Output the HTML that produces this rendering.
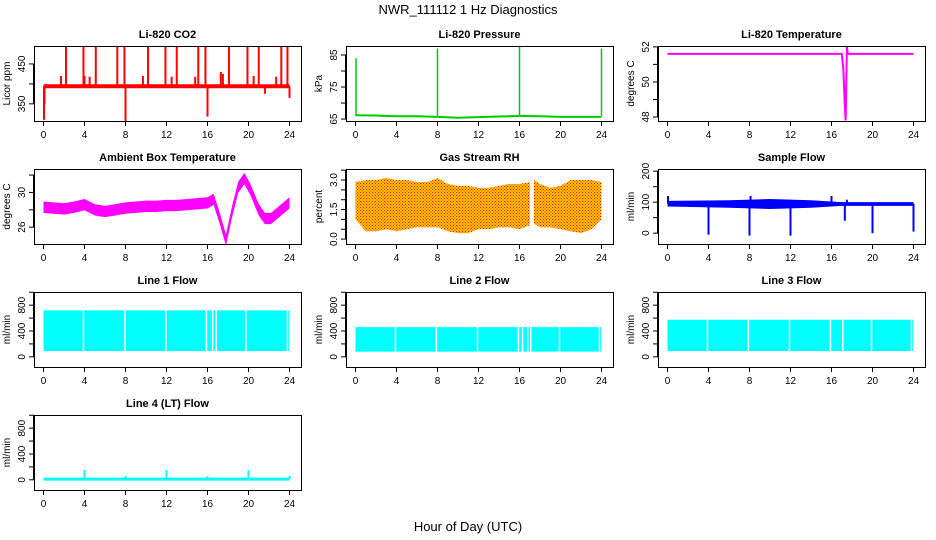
<!DOCTYPE html>
<html><head><meta charset="utf-8"><style>
html,body{margin:0;padding:0;background:#fff;}
svg{display:block;font-family:"Liberation Sans",sans-serif;}
</style></head><body>
<svg id="chart" width="936" height="540" viewBox="0 0 936 540">
<defs>
<pattern id="dots" width="3" height="3" patternUnits="userSpaceOnUse"><rect x="0" y="0" width="1" height="1" fill="#ff0000"/><rect x="1.5" y="1.5" width="1" height="1" fill="#ff0000"/></pattern>
</defs>
<text x="468" y="14" font-size="13" text-anchor="middle">NWR_111112  1 Hz Diagnostics</text>
<text x="468" y="531" font-size="13" text-anchor="middle">Hour of Day (UTC)</text>
</svg>
<script>
// ---- data ----
const xTicks = [0,4,8,12,16,20,24];
const co2BaseT = [0,24];
const co2BaseLo = [389,389];
const co2BaseHi = [399,399];
const co2SpikeT = [0.05,0.1,1.7,2.2,3.9,4.0,4.5,5.1,7.2,7.9,8.0,9.7,10.2,11.9,12.5,13.0,14.8,15.1,15.8,16.0,17.3,17.5,18.1,19.9,20.5,21.0,21.6,22.7,23.2,23.8,24.0];
const co2SpikeV = [310,350,420,495,495,420,418,495,495,495,300,420,495,495,418,495,418,495,495,318,430,425,495,495,420,495,375,418,495,495,365];
const presT = [0,2,4,6,8,10,12,14,16,18,20,22,24];
const presV = [66.2,66.1,65.9,65.9,65.7,65.4,65.6,65.8,66.0,65.9,65.7,65.7,65.7];
const presSpikeT = [0.05,8,16,24];
const presSpikeV = [84,87,88,87];
const tempT = [0,17,17.15,17.3,17.38,17.45,17.5,17.6,24];
const tempV = [51.6,51.6,50.8,48.6,47.8,50.2,52,51.6,51.6];
const ambT = [0,1,2,3,4,5,6,7,8,9,10,11,12,13,14,15,16,16.6,17.2,17.8,18.4,19,19.6,20.2,21,21.6,22.2,23,24];
const ambV = [28.3,28.2,28.1,28.3,28.6,28.0,27.8,28.0,28.2,28.3,28.4,28.4,28.5,28.5,28.6,28.7,28.8,29.2,27.0,24.5,27.8,30.6,31.6,30.3,28.0,27.0,27.0,27.8,28.8];
const ambHalf = 0.65;
const rhTA = [0,1,2,3,4,5,6,7,8,9,10,11,12,13,14,15,16,17];
const rhHiA = [2.9,3.0,3.0,3.1,3.0,3.0,2.9,2.9,3.1,2.8,2.7,2.7,2.6,2.6,2.7,2.8,2.8,2.9];
const rhLoA = [1.0,0.4,0.4,0.5,0.4,0.5,0.6,0.6,0.6,0.4,0.3,0.3,0.5,0.5,0.6,0.6,0.5,0.7];
const rhTB = [17.4,18,19,20,21,22,23,24];
const rhHiB = [3.0,2.8,2.6,2.7,3.0,3.0,3.0,2.9];
const rhLoB = [0.8,0.6,0.6,0.5,0.4,0.3,0.5,1.0];
const flowT = [0,6,10,14,17,24];
const flowLo = [86,82,78,82,88,88];
const flowHi = [104,106,110,106,100,100];
const flowSpikeT = [0.05,4,8,8.1,12,16,17.3,17.5,20,24];
const flowSpikeV = [120,-5,-8,120,-8,120,40,108,0,5];
const line1Lo = 90, line1Hi = 720;
const line1Gaps = [3.9,7.95,11.95,15.9,16.5,16.85,19.75,23.8];
const line2Lo = 80, line2Hi = 460;
const line2Gaps = [3.9,7.9,11.9,15.9,16.3,16.8,17.1,19.9,23.8];
const line3Lo = 90, line3Hi = 575;
const line3Gaps = [3.9,7.9,11.9,15.9,17.1,19.9,23.8];
const line4Base = 10;
const line4SpikeT = [4,8,12,16,20,24];
const line4SpikeV = [150,60,150,55,150,60];

// ---- layout ----
const svg = document.getElementById('chart');
const NS = 'http://www.w3.org/2000/svg';
const W = 267, H = 75;
function mk(tag, attrs, parent){const e=document.createElementNS(NS,tag);for(const k in attrs)e.setAttribute(k,attrs[k]);(parent||svg).appendChild(e);return e;}

function panel(col,row,name,title,ylab,ymin,ymax,yTicks,yLabels){
  const X=34+312*col, Y=46+123*row;
  const g=mk('g',{});
  
  
  const xs=h=>X+9.5+h*246/24;
  const ys=v=>Y+(ymax-v)/(ymax-ymin)*H;
  const t=mk('text',{x:X+W/2,y:Y-8,'font-size':11,'font-weight':'bold','text-anchor':'middle'},g);
  t.textContent=title;
  
  
  const clipId='c'+col+row;
  const cp=mk('clipPath',{id:clipId},g);mk('rect',{x:X,y:Y,width:W,height:H},cp);
  const plot=mk('g',{'clip-path':'url(#'+clipId+')'},g);
  mk('line',{x1:xs(0),x2:xs(24),y1:Y+H+0.5,y2:Y+H+0.5,stroke:'#000'},g);
  xTicks.forEach(v=>{mk('line',{x1:xs(v),x2:xs(v),y1:Y+H,y2:Y+H+5,stroke:'#000'},g);
    const tx=mk('text',{x:xs(v),y:Y+H+17,'font-size':10,'text-anchor':'middle'},g);tx.textContent=v;
    
    });
  mk('line',{x1:X-0.5,x2:X-0.5,y1:ys(yTicks[0]),y2:ys(yTicks[yTicks.length-1]),stroke:'#000'},g);
  yTicks.forEach(v=>{mk('line',{x1:X-5,x2:X,y1:ys(v),y2:ys(v),stroke:'#000'},g);});
  yLabels.forEach(v=>{const tx=mk('text',{x:0,y:0,'font-size':10,'text-anchor':'middle',transform:'translate('+(X-9)+','+ys(v)+') rotate(-90)'},g);tx.textContent=v;
    
    });
  const yl=mk('text',{x:0,y:0,'font-size':10,'text-anchor':'middle',transform:'translate('+(X-24)+','+(Y+H/2)+') rotate(-90)'},g);
  yl.textContent=ylab;
  
  
  return {g,plot,xs,ys,X,Y,box:()=>{const b=mk('rect',{x:X+0.5,y:Y+0.5,width:W,height:H,fill:'none',stroke:'#000'},g);
    
    }};
}
function band(p,T,lo,hi,fill,name){
  let d='M'+T.map((t,i)=>p.xs(t)+','+p.ys(hi[i])).join('L');
  d+='L'+T.map((t,i)=>p.xs(t)+','+p.ys(lo[i])).reverse().join('L')+'Z';
  const e=mk('path',{d:d,fill:fill},p.plot);
  
  
  return d;
}
function spikes(p,T,V,base,color,w,name){
  T.forEach((t,i)=>{const e=mk('line',{x1:p.xs(t),x2:p.xs(t),y1:p.ys(base),y2:p.ys(V[i]),stroke:color,'stroke-width':w},p.plot);
    
    });
}
function line(p,T,V,color,w,name){
  const e=mk('polyline',{points:T.map((t,i)=>p.xs(t)+','+p.ys(V[i])).join(' '),fill:'none',stroke:color,'stroke-width':w},p.plot);
  
  
}

let p=panel(0,0,'co2','Li-820 CO2','Licor ppm',307,495,[350,400,450],[350,450]);
band(p,co2BaseT,co2BaseLo,co2BaseHi,'#ff0000','co2-baseline');
spikes(p,co2SpikeT,co2SpikeV,394,'#ff0000',2,'co2-spike');
p.box();
p=panel(1,0,'pressure','Li-820 Pressure','kPa',64.4,87.8,[65,70,75,80,85],[65,75,85]);
line(p,presT,presV,'#00cc00',2,'pressure-line');
spikes(p,presSpikeT,presSpikeV,66,'#00cc00',1.5,'pressure-spike');
p.box();
p=panel(2,0,'li820-temp','Li-820 Temperature','degrees C',47.77,52.05,[48,49,50,51,52],[48,50,52]);
line(p,tempT,tempV,'#ff00ff',2,'temperature-line');
p.box();
p=panel(0,1,'ambient','Ambient Box Temperature','degrees C',24.06,32.7,[26,28,30,32],[26,30]);
band(p,ambT,ambV.map(v=>v-ambHalf),ambV.map(v=>v+ambHalf),'#ff00ff','ambient-band');
p.box();
p=panel(1,1,'rh','Gas Stream RH','percent',-0.25,3.56,[0,0.5,1,1.5,2,2.5,3,3.5],['0.0','1.5','3.0']);
[[rhTA,rhLoA,rhHiA],[rhTB,rhLoB,rhHiB]].forEach(s=>{const d=band(p,s[0],s[1],s[2],'#ffc800','rh-band');
  const e=mk('path',{d:d,fill:'url(#dots)'},p.plot);
  
  });
p.box();
p=panel(2,1,'sample-flow','Sample Flow','ml/min',-35,207,[0,50,100,150,200],[0,100,200]);
band(p,flowT,flowLo,flowHi,'#0000ff','sample-flow-band');
spikes(p,flowSpikeT,flowSpikeV,95,'#0000ff',2,'sample-flow-spike');
p.box();
function lineFlow(col,row,name,title,lo,hi,gaps){
  const q=panel(col,row,name,title,'ml/min',-158,1004,[0,200,400,600,800,1000],[0,400,800]);
  band(q,[0,24],[lo,lo],[hi,hi],'#00ffff',name+'-band');
  gaps.forEach(t=>{const e=mk('line',{x1:q.xs(t),x2:q.xs(t),y1:q.ys(lo),y2:q.ys(hi),stroke:'#fff','stroke-width':1.5},q.plot);
    
    });
  q.box();
}
lineFlow(0,2,'line1-flow','Line 1 Flow',line1Lo,line1Hi,line1Gaps);
lineFlow(1,2,'line2-flow','Line 2 Flow',line2Lo,line2Hi,line2Gaps);
lineFlow(2,2,'line3-flow','Line 3 Flow',line3Lo,line3Hi,line3Gaps);
p=panel(0,3,'line4-flow','Line 4 (LT) Flow','ml/min',-158,1004,[0,200,400,600,800,1000],[0,400,800]);
line(p,[0,24],[line4Base,line4Base],'#00ffff',3,'line4-baseline');
spikes(p,line4SpikeT,line4SpikeV,line4Base,'#00ffff',2,'line4-spike');
p.box();
</script>
</body></html>
